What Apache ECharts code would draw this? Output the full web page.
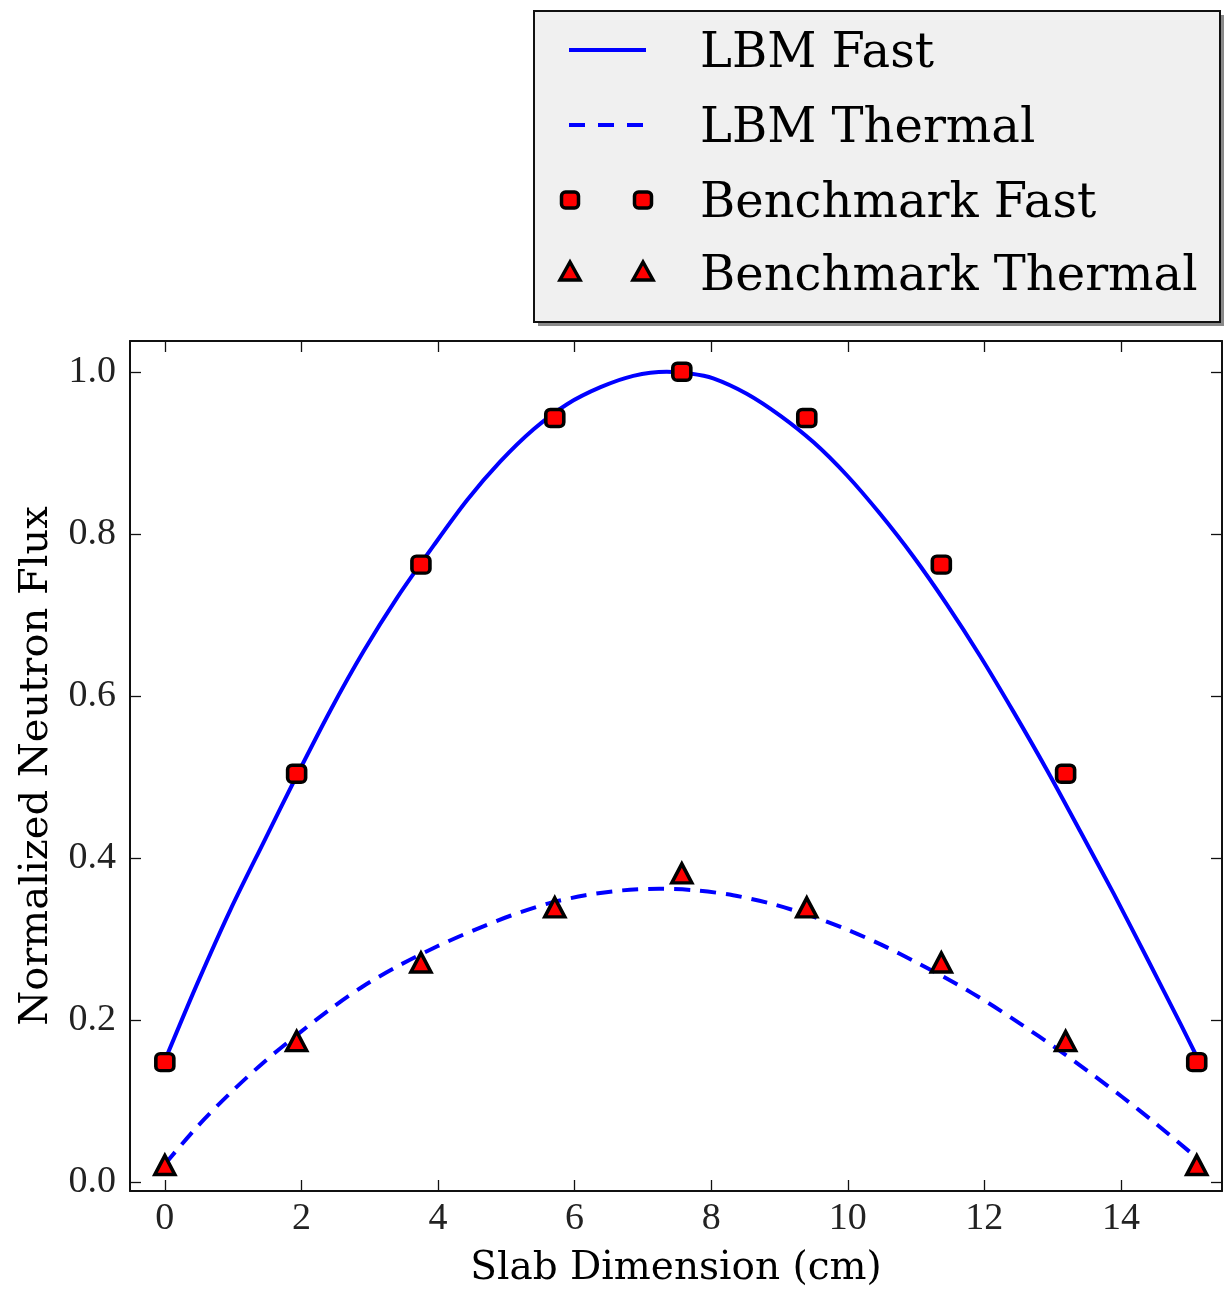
<!DOCTYPE html>
<html>
<head>
<meta charset="utf-8">
<script src="https://cdn.jsdelivr.net/npm/echarts@6/dist/echarts.min.js"></script>
<style>
  html, body { margin: 0; padding: 0; background: #fff; }
  #chart { width: 1224px; height: 1292px; }
</style>
</head>
<body>
<div id="chart"></div>
<script>
// Benchmark solution sampled across the slab (cm)
const benchX = [0, 1.93, 3.75, 5.71, 7.57, 9.40, 11.37, 13.19, 15.11];
const benchFast = [0.148, 0.504, 0.762, 0.943, 1.000, 0.943, 0.762, 0.504, 0.148];
const benchThermal = [0.021, 0.174, 0.271, 0.339, 0.381, 0.339, 0.271, 0.174, 0.021];

// Lattice Boltzmann fast-group flux profile
const lbmFastX = [0, 0.47, 0.96, 1.45, 1.94, 2.43, 2.91, 3.40, 3.94, 4.43, 4.91, 5.40, 5.89, 6.38, 6.86, 7.35,
                  7.69, 8.03, 8.52, 9.01, 9.50, 9.99, 10.47, 10.96, 11.45, 11.94, 12.43, 12.92, 13.41, 13.90, 14.39, 14.88, 15.11];
const lbmFastY = [0.150, 0.244, 0.336, 0.420, 0.503, 0.583, 0.655, 0.721, 0.786, 0.842, 0.889, 0.929, 0.960, 0.981, 0.995, 1.000,
                  0.998, 0.992, 0.973, 0.946, 0.913, 0.872, 0.825, 0.772, 0.713, 0.649, 0.580, 0.508, 0.432, 0.355, 0.275, 0.194, 0.155];

// Lattice Boltzmann thermal-group flux profile
const lbmThermalX = [0, 0.47, 0.96, 1.45, 1.94, 2.43, 2.91, 3.40, 3.99, 4.53, 5.07, 5.62, 6.16, 6.70, 7.24,
                     7.78, 8.32, 8.86, 9.41, 9.95, 10.49, 11.03, 11.58, 12.06, 12.55, 13.04, 13.53, 14.02, 14.50, 15.11];
const lbmThermalY = [0.022, 0.068, 0.110, 0.148, 0.182, 0.214, 0.242, 0.266, 0.291, 0.311, 0.329, 0.344, 0.354, 0.360, 0.362,
                     0.360, 0.354, 0.344, 0.330, 0.313, 0.293, 0.270, 0.245, 0.221, 0.194, 0.166, 0.136, 0.105, 0.073, 0.030];

const xTicks = [0, 2, 4, 6, 8, 10, 12, 14];
const yTicks = [0, 0.2, 0.4, 0.6, 0.8, 1.0];

const legendNames = ['LBM Fast', 'LBM Thermal', 'Benchmark Fast', 'Benchmark Thermal'];

const pairs = (xs, ys) => xs.map((x, i) => [x, ys[i]]);

const INK = '#111111';
const TICK_FONT = 'Liberation Serif';
const TEXT_FONT = 'DejaVu Serif';
const X_MIN = -0.51, X_MAX = 15.48;
const Y_MIN = -0.011, Y_MAX = 1.038;

function frameAxis(extra) {
  return Object.assign({
    type: 'value',
    axisLine: { show: true, onZero: false, lineStyle: { color: INK, width: 2 } },
    splitLine: { show: false }
  }, extra);
}

const tickStyle = { color: INK, width: 1.3 };

const xAxes = [
  frameAxis({
    position: 'bottom', min: X_MIN, max: X_MAX,
    axisTick: { show: true, inside: true, length: 11, customValues: xTicks, lineStyle: tickStyle },
    axisLabel: { show: true, customValues: xTicks, margin: 9, color: '#222', fontFamily: TICK_FONT, fontSize: 38 },
    name: 'Slab Dimension (cm)', nameLocation: 'middle', nameGap: 58,
    nameTextStyle: { fontFamily: TEXT_FONT, fontSize: 39, color: '#000' }
  }),
  frameAxis({
    position: 'top', min: X_MIN, max: X_MAX,
    axisTick: { show: true, inside: true, length: 11, customValues: xTicks, lineStyle: tickStyle },
    axisLabel: { show: false }
  })
];

const yAxes = [
  frameAxis({
    position: 'left', min: Y_MIN, max: Y_MAX,
    axisTick: { show: true, inside: true, length: 11, customValues: yTicks, lineStyle: tickStyle },
    axisLabel: { show: true, customValues: yTicks, margin: 14, color: '#222', fontFamily: TICK_FONT, fontSize: 38,
                 formatter: v => v.toFixed(1) },
    name: 'Normalized Neutron Flux', nameLocation: 'middle', nameGap: 73,
    nameTextStyle: { fontFamily: TEXT_FONT, fontSize: 40, color: '#000' }
  }),
  frameAxis({
    position: 'right', min: Y_MIN, max: Y_MAX,
    axisTick: { show: true, inside: true, length: 11, customValues: yTicks, lineStyle: tickStyle },
    axisLabel: { show: false }
  })
];

// Legend box drawn by hand so each entry can carry two sample markers
const LG = { x: 534, y: 11, w: 686, h: 311, rowY: [50, 125, 200, 273], lineX1: 569, lineX2: 646, m1: 570, m2: 643, textX: 700 };

function squareMarker(cx, cy) {
  return { type: 'rect', z: 102, shape: { x: cx - 8.5, y: cy - 8, width: 17, height: 16, r: 4 },
           style: { fill: '#ff0000', stroke: '#000', lineWidth: 3.5 } };
}
function triMarker(cx, cy) {
  return { type: 'polygon', z: 102, shape: { points: [[cx, cy - 11], [cx - 10, cy + 7], [cx + 10, cy + 7]] },
           style: { fill: '#ff0000', stroke: '#000', lineWidth: 3.5, lineJoin: 'miter' } };
}

const legendGraphics = [
  { type: 'rect', z: 100, shape: { x: LG.x + 4, y: LG.y + 4, width: LG.w, height: LG.h }, style: { fill: '#8a8a8a' } },
  { type: 'rect', z: 101, shape: { x: LG.x, y: LG.y, width: LG.w, height: LG.h }, style: { fill: '#f0f0f0', stroke: '#111', lineWidth: 2 } },
  { type: 'line', z: 102, shape: { x1: LG.lineX1, y1: LG.rowY[0], x2: LG.lineX2, y2: LG.rowY[0] }, style: { stroke: '#0000ff', lineWidth: 4 } },
  { type: 'line', z: 102, shape: { x1: LG.lineX1, y1: LG.rowY[1], x2: LG.lineX2, y2: LG.rowY[1] }, style: { stroke: '#0000ff', lineWidth: 4, lineDash: [16, 13] } },
  squareMarker(LG.m1, LG.rowY[2]), squareMarker(LG.m2, LG.rowY[2]),
  triMarker(LG.m1, LG.rowY[3]), triMarker(LG.m2, LG.rowY[3])
].concat(legendNames.map((name, i) => ({
  type: 'text', z: 103, x: LG.textX, y: LG.rowY[i] + 5,
  style: { text: name, fontFamily: TEXT_FONT, fontSize: 48, fill: '#000', verticalAlign: 'middle', align: 'left' }
})));

const markerStyle = { color: '#ff0000', borderColor: '#000', borderWidth: 3.5, opacity: 1 };

const chart = echarts.init(document.getElementById('chart'), null, { renderer: 'canvas' });
chart.setOption({
  backgroundColor: '#ffffff',
  animation: false,
  grid: { left: 130, top: 341, right: 2, bottom: 101, containLabel: false, outerBoundsMode: 'none' },
  xAxis: xAxes,
  yAxis: yAxes,
  series: [
    { name: 'LBM Fast', type: 'line', data: pairs(lbmFastX, lbmFastY), smooth: 0.3, showSymbol: false,
      lineStyle: { color: '#0000ff', width: 4 }, z: 2 },
    { name: 'LBM Thermal', type: 'line', data: pairs(lbmThermalX, lbmThermalY), smooth: 0.3, showSymbol: false,
      lineStyle: { color: '#0000ff', width: 4, type: [16, 10] }, z: 2 },
    { name: 'Benchmark Fast', type: 'scatter', data: pairs(benchX, benchFast), symbol: 'roundRect', symbolSize: [18, 17],
      itemStyle: markerStyle, z: 3 },
    { name: 'Benchmark Thermal', type: 'scatter', data: pairs(benchX, benchThermal), symbol: 'triangle', symbolSize: [20, 19],
      itemStyle: markerStyle, z: 3 }
  ],
  graphic: legendGraphics
});
</script>
</body>
</html>
